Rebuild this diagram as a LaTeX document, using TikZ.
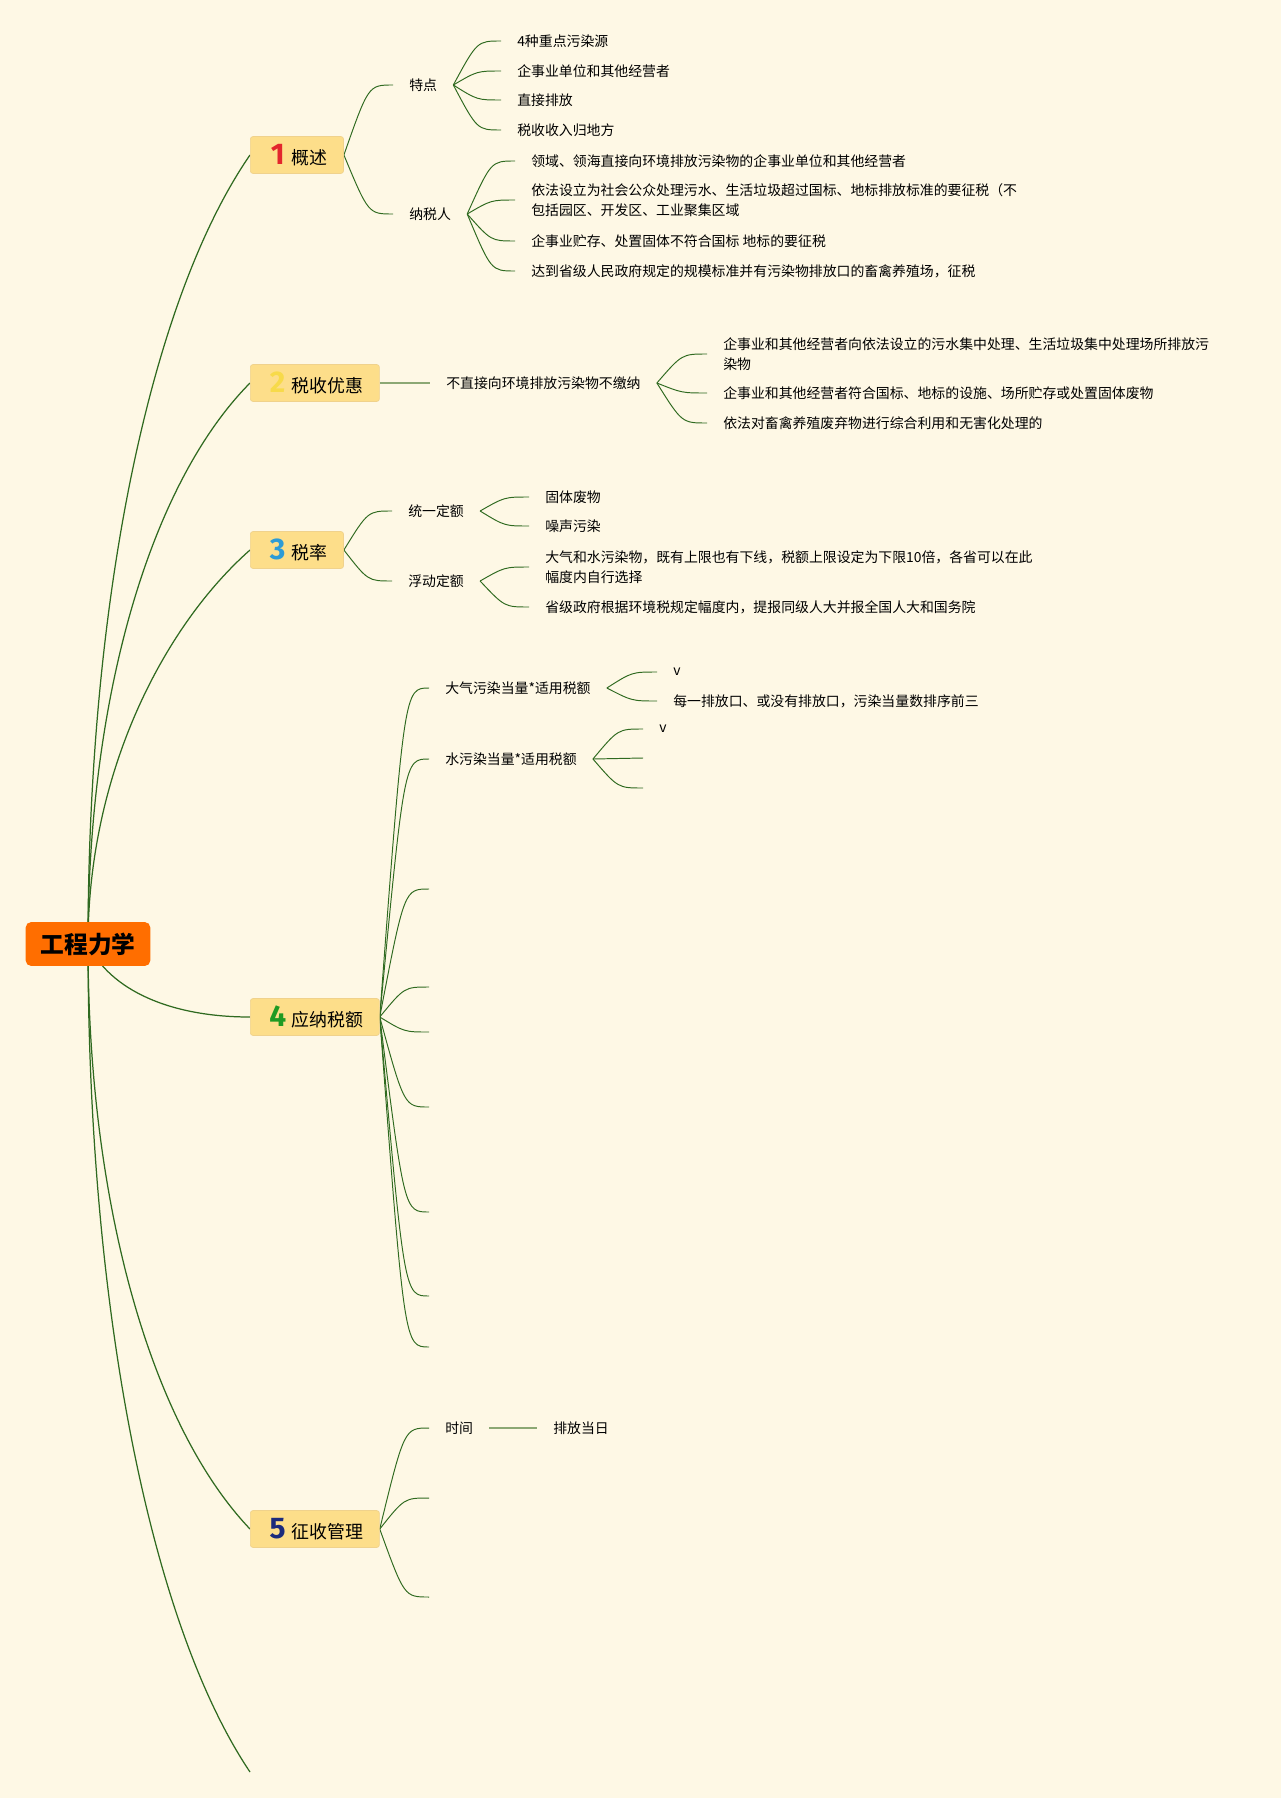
\documentclass[tikz,border=0pt]{standalone}
\usepackage{fontspec}
\setmainfont{Noto Sans CJK SC}
\newfontfamily\numfont{Fira Sans}
\usepackage{xcolor}
\usepackage{tikz}
\usetikzlibrary{calc}
\definecolor{paper}{HTML}{FEF8E5}
\definecolor{topicfill}{HTML}{FDDE8A}
\definecolor{topicline}{HTML}{F0D28C}
\definecolor{rootfill}{HTML}{FF6E00}
\definecolor{branch}{HTML}{2F6A20}
\definecolor{softbranch}{HTML}{8CA874}
\definecolor{num1}{HTML}{E3262C}
\definecolor{num2}{HTML}{F7DA4A}
\definecolor{num3}{HTML}{2D9BD6}
\definecolor{num4}{HTML}{1F9A22}
\definecolor{num5}{HTML}{1C2B7C}
\pgfdeclarelayer{back}
\pgfsetlayers{back,main}
\newcommand\topicnum[2]{\makebox[13pt]{\numfont\bfseries\fontsize{17}{17}\selectfont\color{#1}#2}\hspace{1.5pt}}

\begin{document}
\begin{tikzpicture}[
  x=0.02cm, y=-0.02cm,
  root/.style={fill=rootfill, rounded corners=3pt, minimum width=70.9pt, minimum height=24.9pt, font=\fontsize{13.5}{13.5}\selectfont\bfseries},
  topic/.style={anchor=west, draw=topicline, fill=topicfill, rounded corners=1.5pt, inner xsep=9.07pt, minimum height=21pt, font=\fontsize{10.2}{10.2}\selectfont},
  sub/.style={anchor=west, inner xsep=9.07pt, inner ysep=1pt, align=left, font=\fontsize{7.9}{11.3}\selectfont},
  trunk/.style={draw=branch, line width=0.7pt},
  fan/.style={draw=branch, line width=0.55pt, to path={let \p1=(\tikztostart), \p2=(\tikztotarget) in .. controls ({0.5*\x1+0.5*\x2},\y2) .. (\p2)}},
  link/.style={draw=softbranch, line width=1.1pt}
]
\useasboundingbox (0,0) rectangle (1281,1798);
\begin{pgfonlayer}{back}
\fill[paper] (0,0) rectangle (1281,1798);
\end{pgfonlayer}

\node[root] (root) at (88,944) {工程力学};
\node[topic] (t1) at (250,155) {\topicnum{num1}{1}概述};
\node[topic] (t2) at (250,383) {\topicnum{num2}{2}税收优惠};
\node[topic] (t3) at (250,550) {\topicnum{num3}{3}税率};
\node[topic] (t4) at (250,1017) {\topicnum{num4}{4}应纳税额};
\node[topic] (t5) at (250,1529) {\topicnum{num5}{5}征收管理};
\coordinate (t6) at (250,1772);

\node[sub] (a1) at (393,85) {特点};
\node[sub] (a2) at (393,214) {纳税人};
\node[sub] (a11) at (501,41) {4种重点污染源};
\node[sub] (a12) at (501,71) {企事业单位和其他经营者};
\node[sub] (a13) at (501,100) {直接排放};
\node[sub] (a14) at (501,130) {税收收入归地方};
\node[sub] (a21) at (515,161) {领域、领海直接向环境排放污染物的企事业单位和其他经营者};
\node[sub] (a22) at (515,200) {依法设立为社会公众处理污水、生活垃圾超过国标、地标排放标准的要征税（不\\包括园区、开发区、工业聚集区域};
\node[sub] (a23) at (515,241) {企事业贮存、处置固体不符合国标 地标的要征税};
\node[sub] (a24) at (515,271) {达到省级人民政府规定的规模标准并有污染物排放口的畜禽养殖场，征税};

\node[sub] (b1) at (430,383) {不直接向环境排放污染物不缴纳};
\node[sub] (b11) at (707,354) {企事业和其他经营者向依法设立的污水集中处理、生活垃圾集中处理场所排放污\\染物};
\node[sub] (b12) at (707,393) {企事业和其他经营者符合国标、地标的设施、场所贮存或处置固体废物};
\node[sub] (b13) at (707,423) {依法对畜禽养殖废弃物进行综合利用和无害化处理的};

\node[sub] (c1) at (392,511) {统一定额};
\node[sub] (c2) at (392,581) {浮动定额};
\node[sub] (c11) at (529,497) {固体废物};
\node[sub] (c12) at (529,526) {噪声污染};
\node[sub] (c21) at (529,567) {大气和水污染物，既有上限也有下线，税额上限设定为下限10倍，各省可以在此\\幅度内自行选择};
\node[sub] (c22) at (529,607) {省级政府根据环境税规定幅度内，提报同级人大并报全国人大和国务院};

\node[sub] (d1) at (429,688) {大气污染当量*适用税额};
\node[sub] (d2) at (429,759) {水污染当量*适用税额};
\coordinate (d3) at (429,889);
\coordinate (d4) at (429,987);
\coordinate (d5) at (429,1032);
\coordinate (d6) at (429,1107);
\coordinate (d7) at (429,1212);
\coordinate (d8) at (429,1296);
\coordinate (d9) at (429,1347);
\node[sub] (d11) at (657,672) {v};
\node[sub] (d12) at (657,701) {每一排放口、或没有排放口，污染当量数排序前三};
\node[sub] (d21) at (643,729) {v};
\coordinate (d22) at (643,758);
\coordinate (d23) at (643,788);

\node[sub] (e1) at (429,1428) {时间};
\node[sub] (e11) at (537,1428) {排放当日};
\coordinate (e2) at (429,1498);
\coordinate (e3) at (429,1597);

\begin{pgfonlayer}{back}
\draw[trunk] (root.center) .. controls +(0,-344) and +(-100,145) .. (t1.west);
\draw[trunk] (root.center) .. controls +(0,-247) and +(-100,101) .. (t2.west);
\draw[trunk] (root.center) .. controls +(0,-173) and +(-85,75) .. (t3.west);
\draw[trunk] (root.center) .. controls (110,990) and (170,1017) .. (t4.west);
\draw[trunk] (root.center) .. controls +(0,257) and +(-100,-105) .. (t5.west);
\draw[trunk] (root.center) .. controls +(0,364) and +(-100,-149) .. (t6);

\draw[fan] (t1.east) to (a1.west);
\draw[fan] (t1.east) to (a2.west);
\draw[fan] (a1.east) to (a11.west);
\draw[fan] (a1.east) to (a12.west);
\draw[fan] (a1.east) to (a13.west);
\draw[fan] (a1.east) to (a14.west);
\draw[fan] (a2.east) to (a21.west);
\draw[fan] (a2.east) to (a22.west);
\draw[fan] (a2.east) to (a23.west);
\draw[fan] (a2.east) to (a24.west);

\draw[link] (t2.east) -- (b1.west);
\draw[fan] (b1.east) to (b11.west);
\draw[fan] (b1.east) to (b12.west);
\draw[fan] (b1.east) to (b13.west);

\draw[fan] (t3.east) to (c1.west);
\draw[fan] (t3.east) to (c2.west);
\draw[fan] (c1.east) to (c11.west);
\draw[fan] (c1.east) to (c12.west);
\draw[fan] (c2.east) to (c21.west);
\draw[fan] (c2.east) to (c22.west);

\draw[fan] (t4.east) to (d1.west);
\draw[fan] (t4.east) to (d2.west);
\draw[fan] (t4.east) to (d3);
\draw[fan] (t4.east) to (d4);
\draw[fan] (t4.east) to (d5);
\draw[fan] (t4.east) to (d6);
\draw[fan] (t4.east) to (d7);
\draw[fan] (t4.east) to (d8);
\draw[fan] (t4.east) to (d9);
\draw[fan] (d1.east) to (d11.west);
\draw[fan] (d1.east) to (d12.west);
\draw[fan] (d2.east) to (d21.west);
\draw[fan] (d2.east) to (d22);
\draw[fan] (d2.east) to (d23);

\draw[fan] (t5.east) to (e1.west);
\draw[fan] (t5.east) to (e2);
\draw[fan] (t5.east) to (e3);
\draw[link] (e1.east) -- (e11.west);
\end{pgfonlayer}
\end{tikzpicture}
\end{document}
